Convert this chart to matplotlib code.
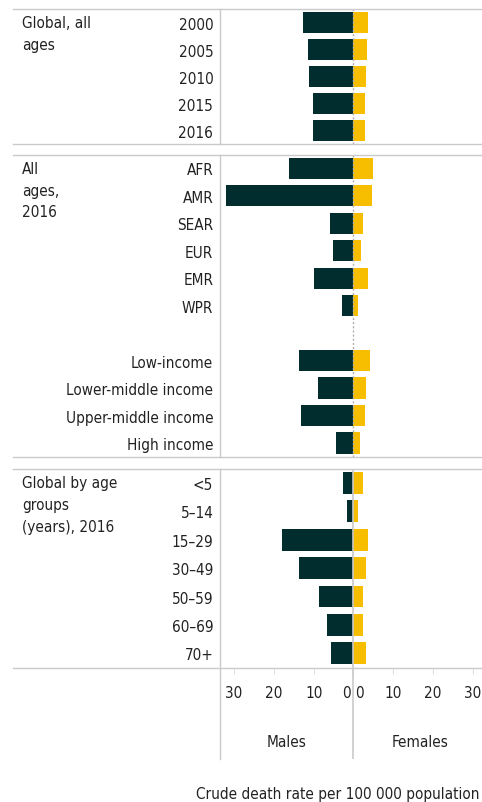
import matplotlib.pyplot as plt
from matplotlib import font_manager as fm
from matplotlib.lines import Line2D
from matplotlib.transforms import blended_transform_factory, offset_copy

# crude death rate per 100 000 population
years = ['2000', '2005', '2010', '2015', '2016']
males_years = [12.6, 11.4, 11.1, 10.1, 10.1]
females_years = [3.7, 3.4, 3.2, 2.9, 2.9]

regions = ['AFR', 'AMR', 'SEAR', 'EUR', 'EMR', 'WPR']
males_regions = [16.2, 32.0, 5.9, 5.1, 9.9, 2.8]
females_regions = [4.9, 4.6, 2.4, 1.9, 3.7, 1.2]

income = ['Low-income', 'Lower-middle income', 'Upper-middle income', 'High income']
males_income = [13.6, 8.9, 13.1, 4.3]
females_income = [4.2, 3.2, 2.9, 1.7]

ages = ['<5', '5\u201314', '15\u201329', '30\u201349', '50\u201359', '60\u201369', '70+']
males_ages = [2.6, 1.6, 17.9, 13.6, 8.6, 6.6, 5.6]
females_ages = [2.4, 1.2, 3.7, 3.2, 2.4, 2.4, 3.2]

# pick a narrow sans if one is around, otherwise a smaller Liberation Sans
narrow = [f for f in fm.fontManager.ttflist
          if ('Narrow' in f.name or 'Condensed' in f.name or f.stretch in ('condensed', 'semi-condensed'))
          and f.style == 'normal' and f.weight in (400, 'normal', 'regular')]
if narrow:
    FONT = dict(family=narrow[0].name, stretch=narrow[0].stretch)
    FS = 11
else:
    FONT = dict(family='Liberation Sans')
    FS = 10.5
plt.rcParams['font.family'] = [FONT['family'], 'DejaVu Sans']
if 'stretch' in FONT:
    plt.rcParams['font.stretch'] = FONT['stretch']

MALE = '#012d2e'
FEMALE = '#f7be00'
GRID = '#cacaca'
TEXT = '#222222'

W, H = 482, 803
LEFT = 220.3
XMIN, XMAX = -33.47, 32.29

fig = plt.figure(figsize=(W / 100, H / 100), dpi=100)


def hline(y):
    fig.add_artist(Line2D([13 / W, 1], [1 - y / H, 1 - y / H], color=GRID, lw=1.0))


def panel(top, bottom, labels, males, females, title, dotted=True):
    ax = fig.add_axes([LEFT / W, 1 - bottom / H, (W - LEFT) / W, (bottom - top) / H])
    pos = [i for i, lab in enumerate(labels) if lab is not None]
    names = [lab for lab in labels if lab is not None]
    ax.barh(pos, [-m for m in males], height=0.77, color=MALE, zorder=2)
    ax.barh(pos, females, height=0.77, color=FEMALE, zorder=2)
    if dotted:
        ax.axvline(0, color='#b0b0b0', lw=1.0, ls=(0, (1.5, 1.5)), zorder=3)
    else:
        ax.axvline(0, color=GRID, lw=1.2, zorder=3)
    ax.set_xlim(XMIN, XMAX)
    ax.set_ylim(len(labels) - 0.5, -0.5)
    ax.set_yticks(pos)
    ax.set_yticklabels(names, fontsize=FS, color=TEXT)
    ax.tick_params(axis='y', length=0, pad=5)
    for s in ['top', 'bottom', 'right']:
        ax.spines[s].set_visible(False)
    ax.spines['left'].set_color(GRID)
    ax.spines['left'].set_linewidth(1.0)
    ax.set_xticks([])
    # group name, top line level with the first category label
    trans = offset_copy(blended_transform_factory(fig.transFigure, ax.transData),
                        fig=fig, y=7.5, units='dots')
    ax.text(22 / W, pos[0], title, transform=trans,
            fontsize=FS, color=TEXT, ha='left', va='top', linespacing=1.55)
    hline(top)
    hline(bottom)
    return ax


panel(10, 145.3, years, males_years, females_years, 'Global, all\nages')
panel(155.7, 457.7, regions + [None] + income, males_regions + males_income,
      females_regions + females_income, 'All\nages,\n2016')
ax3 = panel(469.7, 668.5, ages, males_ages, females_ages,
            'Global by age\ngroups\n(years), 2016', dotted=False)

# shared x scale below the last panel
ax3.set_xticks([-30, -20, -10, 0, 10, 20, 30])
ax3.set_xticklabels(['30', '20', '10', '0 0', '10', '20', '30'], fontsize=FS, color=TEXT)
ax3.tick_params(axis='x', length=4.3, color='#dddddd', pad=8)

axb = fig.add_axes([LEFT / W, 1 - 760 / H, (W - LEFT) / W, (760 - 668.5) / H])
axb.set_xlim(XMIN, XMAX)
axb.set_ylim(0, 1)
axb.axvline(0, color=GRID, lw=1.2)
for s in ['top', 'bottom', 'right']:
    axb.spines[s].set_visible(False)
axb.spines['left'].set_color(GRID)
axb.spines['left'].set_linewidth(1.0)
axb.set_xticks([])
axb.set_yticks([])
axb.patch.set_alpha(0)
yb = (760 - 747) / (760 - 668.5)
axb.text(-16.7, yb, 'Males', fontsize=FS, color=TEXT, ha='center', va='baseline')
axb.text(16.7, yb, 'Females', fontsize=FS, color=TEXT, ha='center', va='baseline')

fig.text(479 / W, 1 - 799 / H, 'Crude death rate per 100 000 population',
         fontsize=FS, color=TEXT, ha='right', va='baseline')

fig.savefig('out.png', dpi=100)
